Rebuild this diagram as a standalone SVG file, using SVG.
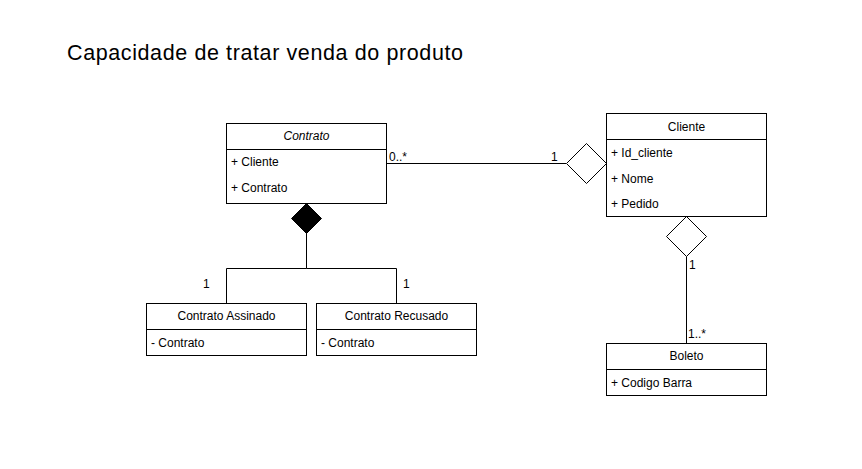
<svg xmlns="http://www.w3.org/2000/svg" width="862" height="469" viewBox="0 0 862 469">
<style>
.box{fill:#fff;stroke:#000;stroke-width:1}
.ln{fill:none;stroke:#000;stroke-width:1}
text{font-family:"Liberation Sans",Arial,Helvetica,sans-serif;font-size:12px;fill:#000}
.c{text-anchor:middle}
.t{font-size:21.5px}
</style>
<rect width="862" height="469" fill="#fff"/>
<text class="t" x="67" y="60" textLength="396" lengthAdjust="spacing">Capacidade de tratar venda do produto</text>
<g id="connectors">
<path class="ln" d="M386.5 163.5H566"/>
<text x="389" y="161">0..*</text>
<text x="551" y="161">1</text>
<path class="ln" d="M306.5 233V268.5H226.5V303M306.5 268.5H396.5V303"/>
<text x="203" y="288">1</text>
<text x="403" y="288">1</text>
<path class="ln" d="M686.5 256.5V343"/>
<text x="689" y="269">1</text>
<text x="688" y="338">1..*</text>
<path fill="#000" stroke="#000" d="M306.5 203.5L321.5 218.5L306.5 233.5L291.5 218.5Z"/>
<path class="box" d="M586.5 143.5L606.5 163.5L586.5 183.5L566.5 163.5Z"/>
<path class="box" d="M686.5 216.5L706.5 236.5L686.5 256.5L666.5 236.5Z"/>
</g>
<g id="contrato">
<rect class="box" x="226.5" y="123.5" width="160" height="80"/>
<path class="ln" d="M226.5 149.5H386.5"/>
<text class="c" x="306.5" y="140" font-style="italic">Contrato</text>
<text x="231" y="166">+ Cliente</text>
<text x="231" y="192">+ Contrato</text>
</g>
<g id="cliente">
<rect class="box" x="606.5" y="113.5" width="160" height="103"/>
<path class="ln" d="M606.5 139.5H766.5"/>
<text class="c" x="686.5" y="131">Cliente</text>
<text x="611" y="157">+ Id_cliente</text>
<text x="611" y="183">+ Nome</text>
<text x="611" y="208">+ Pedido</text>
</g>
<g id="assinado">
<rect class="box" x="146.5" y="303.5" width="160" height="52"/>
<path class="ln" d="M146.5 329.5H306.5"/>
<text class="c" x="226.5" y="320">Contrato Assinado</text>
<text x="151" y="347">- Contrato</text>
</g>
<g id="recusado">
<rect class="box" x="316.5" y="303.5" width="160" height="52"/>
<path class="ln" d="M316.5 329.5H476.5"/>
<text class="c" x="396.5" y="320">Contrato Recusado</text>
<text x="321" y="347">- Contrato</text>
</g>
<g id="boleto">
<rect class="box" x="606.5" y="343.5" width="160" height="52"/>
<path class="ln" d="M606.5 369.5H766.5"/>
<text class="c" x="686.5" y="360">Boleto</text>
<text x="611" y="387">+ Codigo Barra</text>
</g>
</svg>
